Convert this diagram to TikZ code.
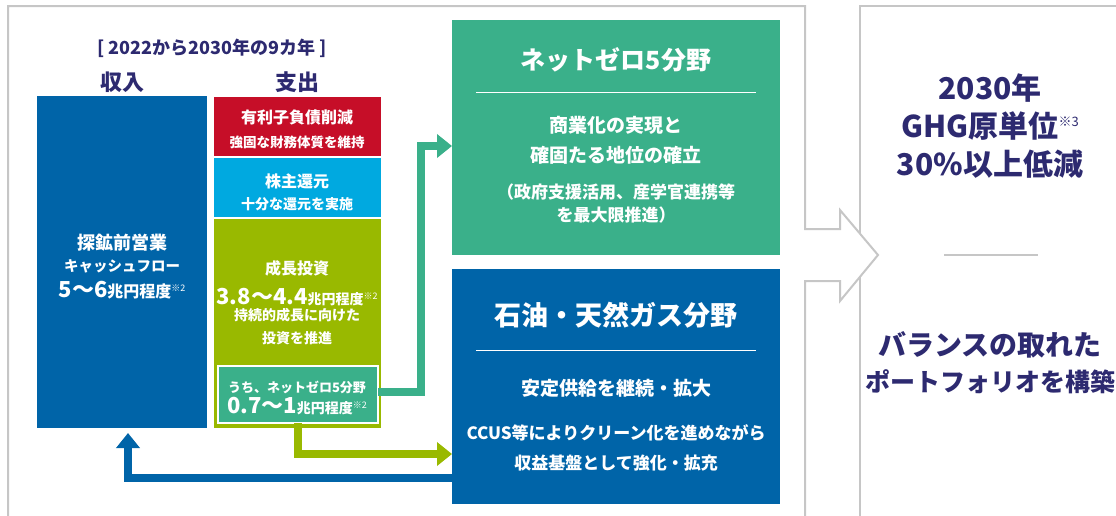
\documentclass[tikz,border=0pt]{standalone}
\usepackage{fontspec}
\setmainfont{Noto Sans CJK JP}
\usepackage{tikz}
\usetikzlibrary{arrows.meta,positioning}
\definecolor{frameg}{RGB}{198,198,198}
\definecolor{navy}{RGB}{45,42,112}
\definecolor{incblue}{RGB}{0,100,168}
\definecolor{debtred}{RGB}{198,14,40}
\definecolor{shrcyan}{RGB}{0,169,224}
\definecolor{grwolive}{RGB}{153,185,0}
\definecolor{nzteal}{RGB}{58,176,138}
\newcommand{\fsz}[1]{\fontsize{#1}{#1}\selectfont}
\newcommand{\kome}[1]{\raisebox{0.7ex}{\fsz{9}\mdseries ※#1}}
\tikzstyle{box} = [anchor=north west, inner sep=0pt, outer sep=0pt]
\tikzstyle{wtxt} = [text=white, inner sep=0pt, font=\bfseries]
\tikzstyle{ntxt} = [text=navy, inner sep=0pt, font=\bfseries]
\tikzstyle{flowarrow} = [line width=8pt, -{Triangle[length=15pt,width=23pt]}]

\begin{document}
\begin{tikzpicture}[x=1pt,y=-1pt]
    \useasboundingbox (0,0) rectangle (1116,515);

    % frames and the big arrow between them
    \draw[frameg, line width=2pt] (860,520) -- (860,6) -- (1120,6);
    \fill[white] (805,229) -- (840,229) -- (840,210) -- (878,255) -- (840,301) -- (840,281) -- (805,281) -- cycle;
    \draw[frameg, line width=2pt] (8,520) -- (8,6) -- (805,6) -- (805,229) -- (840,229) -- (840,210)
        -- (878,255) -- (840,301) -- (840,281) -- (805,281) -- (805,520);

    % left panel
    \node[ntxt] (period) at (212,48) {\fsz{18}[ 2022から2030年の9カ年 ]};
    \node[ntxt] (t_in) at (122,82) {\fsz{22}収入};
    \node[ntxt] (t_out) at (297,82) {\fsz{22}支出};

    \node[box, fill=incblue, minimum width=170pt, minimum height=332pt] (inc) at (37,96) {};
    \node[wtxt] (inc_1) at (122,243) {\fsz{18}探鉱前営業};
    \node[wtxt] (inc_2) at (122,266) {\fsz{14.5}キャッシュフロー};
    \node[wtxt] (inc_3) at (122,290) {\fsz{22}5～6\fsz{16}兆円程度\kome{2}};

    \node[box, fill=debtred, minimum width=167pt, minimum height=59pt] (debt) at (214,97) {};
    \node[wtxt] (debt_1) at (297,117) {\fsz{16}有利子負債削減};
    \node[wtxt] (debt_2) at (297,142) {\fsz{13.5}強固な財務体質を維持};

    \node[box, fill=shrcyan, minimum width=167pt, minimum height=59pt] (shr) at (214,158) {};
    \node[wtxt] (shr_1) at (297,181) {\fsz{16}株主還元};
    \node[wtxt] (shr_2) at (297,204) {\fsz{14}十分な還元を実施};

    \node[box, fill=grwolive, minimum width=167pt, minimum height=209pt] (grw) at (214,219) {};
    \node[wtxt] (grw_1) at (297,268) {\fsz{16}成長投資};
    \node[wtxt] (grw_2) at (297,297) {\fsz{22}3.8～4.4\fsz{14}兆円程度\kome{2}};
    \node[wtxt] (grw_3) at (297,315) {\fsz{14}持続的成長に向けた};
    \node[wtxt] (grw_4) at (297,338) {\fsz{14}投資を推進};

    \node[box, fill=nzteal, draw=white, line width=1.5pt, minimum width=160pt, minimum height=57pt] (nzs) at (218,366) {};
    \node[wtxt] (nzs_1) at (297,387) {\fsz{13}うち、ネットゼロ5分野};
    \node[wtxt] (nzs_2) at (297,406) {\fsz{22}0.7～1\fsz{14}兆円程度\kome{2}};

    % right boxes
    \node[box, fill=nzteal, minimum width=328pt, minimum height=235pt] (nz) at (452,20) {};
    \node[wtxt] (nz_title) at (616,60) {\fsz{25}ネットゼロ5分野};
    \draw[white, line width=1pt] (476,92) -- (756,92);
    \node[wtxt] (nz_1) at (616,125) {\fsz{19}商業化の実現と};
    \node[wtxt] (nz_2) at (616,155) {\fsz{19}確固たる地位の確立};
    \node[wtxt] (nz_3) at (616,192) {\fsz{17}（政府支援活用、産学官連携等};
    \node[wtxt] (nz_4) at (616,215) {\fsz{17}を最大限推進）};

    \node[box, fill=incblue, minimum width=328pt, minimum height=235pt] (og) at (452,269) {};
    \node[wtxt] (og_title) at (616,315) {\fsz{27}石油・天然ガス分野};
    \draw[white, line width=1pt] (476,350) -- (756,350);
    \node[wtxt] (og_1) at (616,388) {\fsz{19}安定供給を継続・拡大};
    \node[wtxt] (og_2) at (616,433) {\fsz{17}CCUS等によりクリーン化を進めながら};
    \node[wtxt] (og_3) at (616,463) {\fsz{17}収益基盤として強化・拡充};

    % goals
    \node[ntxt] (goal_1) at (990,88) {\fsz{30}2030年};
    \node[ntxt] (goal_2) at (990,126) {\fsz{30}GHG原単位\raisebox{0.7ex}{\fsz{13}\mdseries ※3}};
    \node[ntxt] (goal_3) at (990,164) {\fsz{30}30\%以上低減};
    \draw[frameg, line width=1.5pt] (944,255) -- (1038,255);
    \node[ntxt] (bal_1) at (990,345) {\fsz{28}バランスの取れた};
    \node[ntxt] (bal_2) at (990,382) {\fsz{25}ポートフォリオを構築};

    % flows
    \coordinate (incin) at (128,433);
    \draw[flowarrow, nzteal] (nzs.east |- 0,392) -- (421,392) |- (nz.west |- 0,146);
    \draw[flowarrow, grwolive] (nzs.south -| 298,0) -- (298,454) -- (og.west |- 0,454);
    \draw[flowarrow, incblue] (og.west |- 0,478) -- (128,478) -- (incin);
\end{tikzpicture}
\end{document}
